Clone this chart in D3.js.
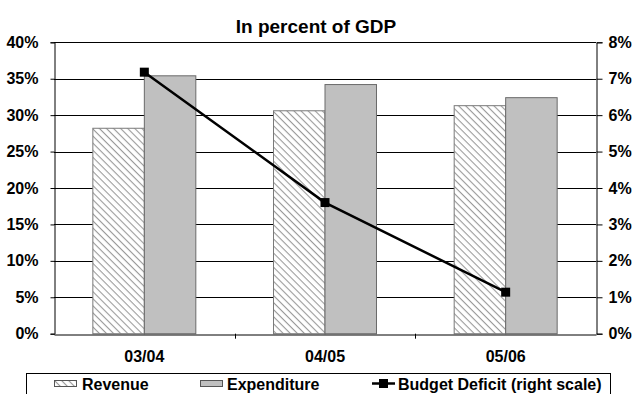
<!DOCTYPE html>
<html>
<head>
<meta charset="utf-8">
<script src="https://cdn.jsdelivr.net/npm/d3@7"></script>
<style>
  html, body { margin: 0; padding: 0; background: #fff; }
  svg { display: block; }
  text { font-family: "Liberation Sans Narrow", "Liberation Sans", Arial, sans-serif; font-weight: bold; fill: #000; }
</style>
</head>
<body>
<svg id="chart" width="632" height="394"></svg>
<script>
// Fiscal aggregates, percent of GDP
const categories = ["03/04", "04/05", "05/06"];
const revenue = [28.2, 30.6, 31.3];
const expenditure = [35.4, 34.2, 32.4];
const deficit = [7.18, 3.6, 1.14];
const leftTicks = [0, 5, 10, 15, 20, 25, 30, 35, 40];
const rightTicks = [0, 1, 2, 3, 4, 5, 6, 7, 8];

const svg = d3.select("#chart");
const m = { left: 54, right: 596, top: 42.3, bottom: 333.7 };

const x = d3.scaleBand().domain(categories).range([m.left, m.right]).paddingInner(0).paddingOuter(0);
const yL = d3.scaleLinear().domain([0, 40]).range([m.bottom, m.top]);
const yR = d3.scaleLinear().domain([0, 8]).range([m.bottom, m.top]);

// Diagonal hatch (top-left to bottom-right) for revenue bars
const defs = svg.append("defs");
const pat = defs.append("pattern")
  .attr("id", "hatch").attr("patternUnits", "userSpaceOnUse")
  .attr("width", 5).attr("height", 5)
  .attr("patternTransform", "rotate(45)");
pat.append("rect").attr("width", 5).attr("height", 5).attr("fill", "#fff");
pat.append("line").attr("x1", 0).attr("y1", 0).attr("x2", 5).attr("y2", 0)
  .attr("stroke", "#9a9a9a").attr("stroke-width", 2.2);

// Title
svg.append("text").attr("x", 316).attr("y", 33).attr("text-anchor", "middle")
  .style("font-size", "19px").text("In percent of GDP");

// Gridlines
svg.append("g").selectAll("line").data(leftTicks.slice(1)).join("line")
  .attr("x1", m.left).attr("x2", m.right)
  .attr("y1", d => Math.round(yL(d)) + 0.5).attr("y2", d => Math.round(yL(d)) + 0.5)
  .attr("stroke", "#000").attr("stroke-width", 1);

// Bars
const bw = x.bandwidth();
const barW = bw * 0.285;
const bars = svg.append("g");
categories.forEach((c, i) => {
  const cx = x(c) + bw / 2;
  bars.append("rect")
    .attr("x", cx - barW).attr("y", yL(revenue[i]))
    .attr("width", barW).attr("height", yL(0) - yL(revenue[i]))
    .attr("fill", "url(#hatch)").attr("stroke", "#7a7a7a").attr("stroke-width", 1);
  bars.append("rect")
    .attr("x", cx).attr("y", yL(expenditure[i]))
    .attr("width", barW).attr("height", yL(0) - yL(expenditure[i]))
    .attr("fill", "#c0c0c0").attr("stroke", "#6a6a6a").attr("stroke-width", 1);
});

// Left axis
const axL = svg.append("g").attr("transform", `translate(${m.left + 0.5},0)`)
  .call(d3.axisLeft(yL).tickValues(leftTicks).tickFormat(d => d + "%").tickSize(4).tickPadding(12));
axL.select(".domain").attr("stroke", "#000");
axL.selectAll("text").style("font-size", "16px").style("font-family", null);

// Right axis
const axR = svg.append("g").attr("transform", `translate(${m.right + 0.5},0)`)
  .call(d3.axisRight(yR).tickValues(rightTicks).tickFormat(d => d + "%").tickSize(6).tickPadding(6));
axR.select(".domain").attr("stroke", "#000");
axR.selectAll("text").style("font-size", "16px").style("font-family", null);

// Category axis
const axB = svg.append("g").attr("transform", `translate(0,${Math.round(m.bottom) + 0.5})`)
  .call(d3.axisBottom(x).tickSize(0).tickPadding(16));
axB.select(".domain").attr("stroke", "#000");
axB.selectAll("text").style("font-size", "16px").style("font-family", null);
svg.append("g").selectAll("line").data(categories.slice(0, -1)).join("line")
  .attr("x1", d => Math.round(x(d) + bw) + 0.5).attr("x2", d => Math.round(x(d) + bw) + 0.5)
  .attr("y1", m.bottom).attr("y2", m.bottom + 5).attr("stroke", "#000");

// Deficit line on the right scale
const line = d3.line().x((d, i) => x(categories[i]) + bw / 2).y(d => yR(d));
svg.append("path").datum(deficit).attr("d", line)
  .attr("fill", "none").attr("stroke", "#000").attr("stroke-width", 2.5);
svg.append("g").selectAll("rect").data(deficit).join("rect")
  .attr("x", (d, i) => x(categories[i]) + bw / 2 - 4.5).attr("y", d => yR(d) - 4.5)
  .attr("width", 9).attr("height", 9).attr("fill", "#000");

// Legend
const lg = svg.append("g");
lg.append("rect").attr("x", 26.5).attr("y", 373.5).attr("width", 584).attr("height", 30)
  .attr("fill", "#fff").attr("stroke", "#000");
lg.append("rect").attr("x", 54.5).attr("y", 380.5).attr("width", 22).attr("height", 6)
  .attr("fill", "url(#hatch)").attr("stroke", "#555");
lg.append("text").attr("x", 82).attr("y", 390).style("font-size", "16px").text("Revenue");
lg.append("rect").attr("x", 200.5).attr("y", 380.5).attr("width", 22).attr("height", 6)
  .attr("fill", "#c0c0c0").attr("stroke", "#555");
lg.append("text").attr("x", 227).attr("y", 390).style("font-size", "16px").text("Expenditure");
lg.append("line").attr("x1", 372).attr("x2", 395).attr("y1", 383.5).attr("y2", 383.5)
  .attr("stroke", "#000").attr("stroke-width", 2.5);
lg.append("rect").attr("x", 379).attr("y", 379).attr("width", 9).attr("height", 9).attr("fill", "#000");
lg.append("text").attr("x", 398).attr("y", 390).style("font-size", "16px").text("Budget Deficit (right scale)");
</script>
</body>
</html>
